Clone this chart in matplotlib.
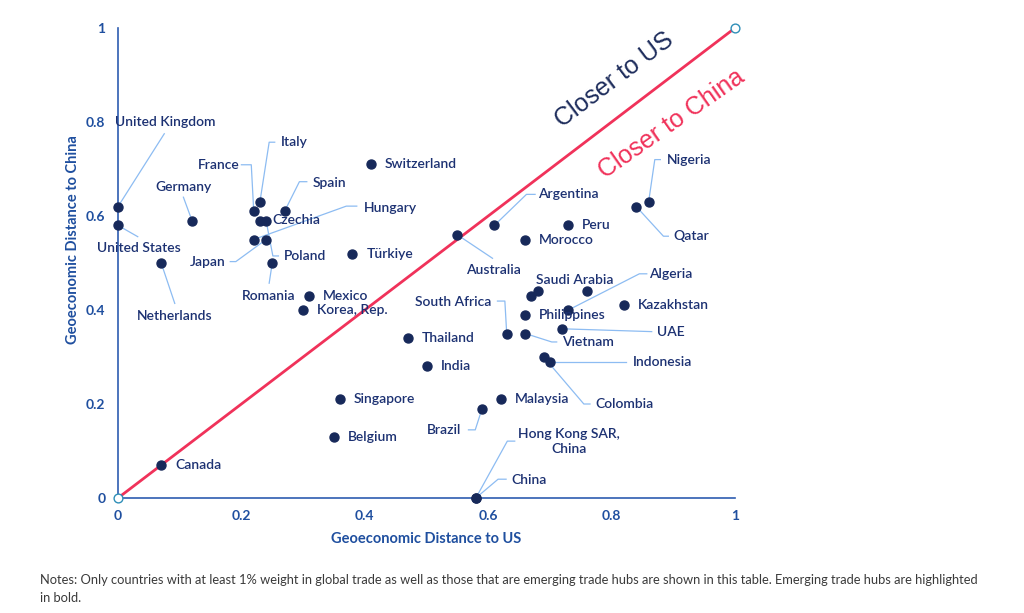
import numpy as np
import matplotlib
matplotlib.use("Agg")
import matplotlib.pyplot as plt

plt.rcParams['font.family'] = ['Lato', 'DejaVu Sans']

# data: geoeconomic distance to US (x) and to China (y)
countries = ['United Kingdom', 'United States', 'Germany', 'Netherlands', 'France',
             'Italy', 'Spain', 'Czechia', 'Poland', 'Hungary', 'Japan', 'Romania',
             'Switzerland', 'Türkiye', 'Mexico', 'Korea, Rep.', 'Thailand', 'India',
             'Singapore', 'Belgium', 'Canada', 'China', 'Hong Kong SAR,\nChina',
             'Brazil', 'Malaysia', 'Australia', 'Argentina', 'Morocco', 'Peru',
             'Nigeria', 'Qatar', 'Saudi Arabia', '', '', 'Algeria', 'Kazakhstan',
             'Philippines', 'UAE', 'Vietnam', 'South Africa', 'Indonesia', 'Colombia']
dist_us = [0.00, 0.00, 0.12, 0.07, 0.22, 0.23, 0.27, 0.23, 0.24, 0.22, 0.24, 0.25,
           0.41, 0.38, 0.31, 0.30, 0.47, 0.50, 0.36, 0.35, 0.07, 0.58, 0.58,
           0.59, 0.62, 0.55, 0.61, 0.66, 0.73, 0.86, 0.84, 0.68, 0.67, 0.76,
           0.73, 0.82, 0.66, 0.72, 0.66, 0.63, 0.70, 0.69]
dist_china = [0.62, 0.58, 0.59, 0.50, 0.61, 0.63, 0.61, 0.59, 0.59, 0.55, 0.55, 0.50,
              0.71, 0.52, 0.43, 0.40, 0.34, 0.28, 0.21, 0.13, 0.07, 0.00, 0.00,
              0.19, 0.21, 0.56, 0.58, 0.55, 0.58, 0.63, 0.62, 0.44, 0.43, 0.44,
              0.40, 0.41, 0.39, 0.36, 0.35, 0.35, 0.29, 0.30]

# label placement (x, y, ha, leader points) for labels that are not simply right of the dot
label_layout = {
    'United Kingdom': (-0.005, 0.800, 'left', [(0.075, 0.775)]),
    'United States': (-0.034, 0.532, 'left', [(0.032, 0.556)]),
    'Germany': (0.060, 0.662, 'left', [(0.106, 0.640)]),
    'Netherlands': (0.031, 0.387, 'left', [(0.092, 0.414)]),
    'France': (0.197, 0.709, 'right', [(0.200, 0.709), (0.216, 0.709)]),
    'Italy': (0.264, 0.757, 'left', [(0.254, 0.757), (0.245, 0.757)]),
    'Spain': (0.315, 0.670, 'left', [(0.306, 0.673), (0.294, 0.673)]),
    'Czechia': (0.251, 0.591, 'left', []),
    'Hungary': (0.398, 0.618, 'left', [(0.387, 0.621), (0.370, 0.621)]),
    'Japan': (0.174, 0.503, 'right', [(0.182, 0.503), (0.191, 0.503)]),
    'Poland': (0.269, 0.515, 'left', [(0.260, 0.515), (0.251, 0.515)]),
    'Romania': (0.244, 0.430, 'center', [(0.245, 0.457)]),
    'Australia': (0.608, 0.485, 'center', [(0.607, 0.510)]),
    'Argentina': (0.680, 0.646, 'left', [(0.676, 0.646), (0.662, 0.646)]),
    'China': (0.638, 0.038, 'left', [(0.629, 0.040), (0.616, 0.040)]),
    'Hong Kong SAR,\nChina': (0.731, 0.120, 'center', [(0.643, 0.121), (0.631, 0.121)]),
    'Brazil': (0.557, 0.145, 'right', [(0.568, 0.145), (0.579, 0.145)]),
    'Nigeria': (0.889, 0.719, 'left', [(0.879, 0.720), (0.870, 0.720)]),
    'Qatar': (0.900, 0.557, 'left', [(0.892, 0.557), (0.884, 0.557)]),
    'Saudi Arabia': (0.677, 0.464, 'left', []),
    'Algeria': (0.861, 0.476, 'left', [(0.857, 0.477), (0.845, 0.477)]),
    'UAE': (0.874, 0.354, 'left', [(0.865, 0.354)]),
    'Vietnam': (0.720, 0.331, 'left', [(0.711, 0.332), (0.703, 0.332)]),
    'South Africa': (0.605, 0.418, 'right', [(0.615, 0.419), (0.627, 0.419)]),
    'Indonesia': (0.834, 0.289, 'left', [(0.824, 0.290)]),
    'Colombia': (0.774, 0.199, 'left', [(0.765, 0.200), (0.755, 0.200)]),
}

navy = '#17295a'
label_col = '#1c3172'
axis_col = '#2e5cb0'
tick_col = '#1f4f9f'
red = '#f0325a'
leader_col = '#8dbcf2'

fig = plt.figure(figsize=(10.24, 6.13), dpi=100)
ax = fig.add_axes([118 / 1024, 115 / 613, 617 / 1024, 470 / 613])

# diagonal
ax.plot([0, 1], [0, 1], color=red, lw=2.0, zorder=2, solid_capstyle='butt')
ax.scatter([0, 1], [0, 1], s=40, facecolor='white', edgecolor='#2f8fb8', lw=1.0,
           zorder=6, clip_on=False)

ax.scatter(dist_us, dist_china, s=42, color=navy, zorder=4, clip_on=False)

for name, x, y in zip(countries, dist_us, dist_china):
    if not name:
        continue
    if name in label_layout:
        tx, ty, ha, path = label_layout[name]
        if path:
            px = [p[0] for p in path] + [x]
            py = [p[1] for p in path] + [y]
            ax.plot(px, py, color=leader_col, lw=0.9, zorder=3, clip_on=False)
        ax.text(tx, ty, name, ha=ha, va='center', color=label_col, fontsize=10,
                fontweight='semibold', linespacing=1.25, zorder=5, clip_on=False)
    else:
        ax.annotate(name, (x, y), xytext=(10, 0), textcoords='offset points',
                    ha='left', va='center', color=label_col, fontsize=10,
                    fontweight='semibold', zorder=5)

ax.text(0.805, 0.89, 'Closer to US', rotation=37, rotation_mode='anchor',
        ha='center', va='center', fontsize=18, color='#1e2d5c',
        family='Liberation Sans')
ax.text(0.897, 0.796, 'Closer to China', rotation=35, rotation_mode='anchor',
        ha='center', va='center', fontsize=18, color=red,
        family='Liberation Sans')

ax.set_xlim(0, 1)
ax.set_ylim(0, 1)
ticks = [0, 0.2, 0.4, 0.6, 0.8, 1]
tick_labels = ['0', '0.2', '0.4', '0.6', '0.8', '1']
ax.set_xticks(ticks, tick_labels)
ax.set_yticks(ticks, tick_labels)
ax.tick_params(length=0, colors=tick_col, labelsize=10, pad=9)
for lab in ax.get_xticklabels() + ax.get_yticklabels():
    lab.set_fontweight('bold')
for s in ['top', 'right']:
    ax.spines[s].set_visible(False)
for s in ['left', 'bottom']:
    ax.spines[s].set_color(axis_col)
    ax.spines[s].set_linewidth(1.2)

fig.text(426 / 1024, 1 - 539 / 613, 'Geoeconomic Distance to US', ha='center',
         va='center', fontsize=10.5, fontweight='bold', color=tick_col)
fig.text(73 / 1024, 1 - 240 / 613, 'Geoeconomic Distance to China', ha='center',
         va='center', rotation=90, fontsize=10.5, fontweight='bold', color=tick_col)

fig.text(40 / 1024, 1 - 580 / 613,
         'Notes: Only countries with at least 1% weight in global trade as well as those that '
         'are emerging trade hubs are shown in this table. Emerging trade hubs are highlighted',
         ha='left', va='center', fontsize=9.25, color='#3a3a3a')
fig.text(40 / 1024, 1 - 598 / 613, 'in bold.', ha='left', va='center', fontsize=9.25,
         color='#3a3a3a')

fig.savefig('out.png', dpi=100)
